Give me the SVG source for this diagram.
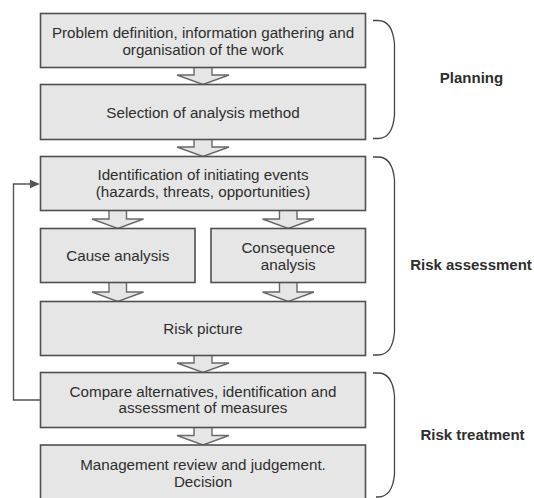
<svg xmlns="http://www.w3.org/2000/svg" width="534" height="498" viewBox="0 0 534 498">
<style>
.box{fill:#e6e6e6;stroke:#505050;stroke-width:1.6}
.t{font-family:"Liberation Sans",Arial,sans-serif;font-size:15.2px;fill:#2e2e2e;text-anchor:middle}
.lbl{font-family:"Liberation Sans",Arial,sans-serif;font-size:15px;font-weight:bold;fill:#2e2e2e;text-anchor:middle}
.blk{fill:#e6e6e6;stroke:#6a6a6a;stroke-width:1.4;stroke-linejoin:miter}
.brace{fill:none;stroke:#444;stroke-width:1.3}
.loop{fill:none;stroke:#555;stroke-width:1.4}
</style>
<rect width="534" height="498" fill="#ffffff"/>
<g id="connectors">
<path class="blk" d="M194,67.5 V75 H177 L203,84.5 L229,75 H212 V67.5"/>
<path class="blk" d="M194,139.5 V147 H177 L203,156.5 L229,147 H212 V139.5"/>
<path class="blk" d="M109,210.5 V219 H92 L117.75,228.5 L143.5,219 H126.5 V210.5"/>
<path class="blk" d="M279.5,210.5 V219 H262.5 L288.25,228.5 L314,219 H297 V210.5"/>
<path class="blk" d="M109,282.5 V292 H92 L117.75,301.5 L143.5,292 H126.5 V282.5"/>
<path class="blk" d="M279.5,282.5 V292 H262.5 L288.25,301.5 L314,292 H297 V282.5"/>
<path class="blk" d="M194,355.5 V363 H177 L203,372.5 L229,363 H212 V355.5"/>
<path class="blk" d="M194,427.5 V435.5 H177 L203,445 L229,435.5 H212 V427.5"/>
<polyline class="loop" points="40.5,400 13.5,400 13.5,184 31,184"/>
<polygon points="30,179.8 40,184 30,188.2" fill="#555"/>
</g>
<g id="n1"><rect class="box" x="40.5" y="13.5" width="325" height="54"/>
<text class="t" x="203" y="37.7">Problem definition, information gathering and</text>
<text class="t" x="203" y="54.5">organisation of the work</text></g>
<g id="n2"><rect class="box" x="40.5" y="84.5" width="325" height="55"/>
<text class="t" x="203" y="117.5">Selection of analysis method</text></g>
<g id="n3"><rect class="box" x="40.5" y="156.5" width="325" height="54"/>
<text class="t" x="203" y="180">Identification of initiating events</text>
<text class="t" x="203" y="196.5">(hazards, threats, opportunities)</text></g>
<g id="n4"><rect class="box" x="40.5" y="228.5" width="154.5" height="54"/>
<text class="t" x="117.75" y="260.5">Cause analysis</text></g>
<g id="n5"><rect class="box" x="211" y="228.5" width="154.5" height="54"/>
<text class="t" x="288.25" y="252.7">Consequence</text>
<text class="t" x="288.25" y="269.5">analysis</text></g>
<g id="n6"><rect class="box" x="40.5" y="301.5" width="325" height="54"/>
<text class="t" x="203" y="333.5">Risk picture</text></g>
<g id="n7"><rect class="box" x="40.5" y="372.5" width="325" height="55"/>
<text class="t" x="203" y="396.5">Compare alternatives, identification and</text>
<text class="t" x="203" y="413">assessment of measures</text></g>
<g id="n8"><rect class="box" x="40.5" y="445" width="325" height="60"/>
<text class="t" x="203" y="470">Management review and judgement.</text>
<text class="t" x="203" y="487">Decision</text></g>
<g id="phases">
<path class="brace" d="M373,20.5 H378 Q392.5,20.5 394.5,44 V115 Q392.5,138.5 378,138.5 H373"/>
<text class="lbl" x="471.5" y="83">Planning</text>
<path class="brace" d="M373,157 H378 Q392.5,157 394.5,180 V332 Q392.5,355 378,355 H373"/>
<text class="lbl" x="471" y="270">Risk assessment</text>
<path class="brace" d="M373,373 H378 Q392.5,373 394.5,396 V474 Q392.5,497 378,497 H376"/>
<text class="lbl" x="472.5" y="440">Risk treatment</text>
</g>
</svg>
